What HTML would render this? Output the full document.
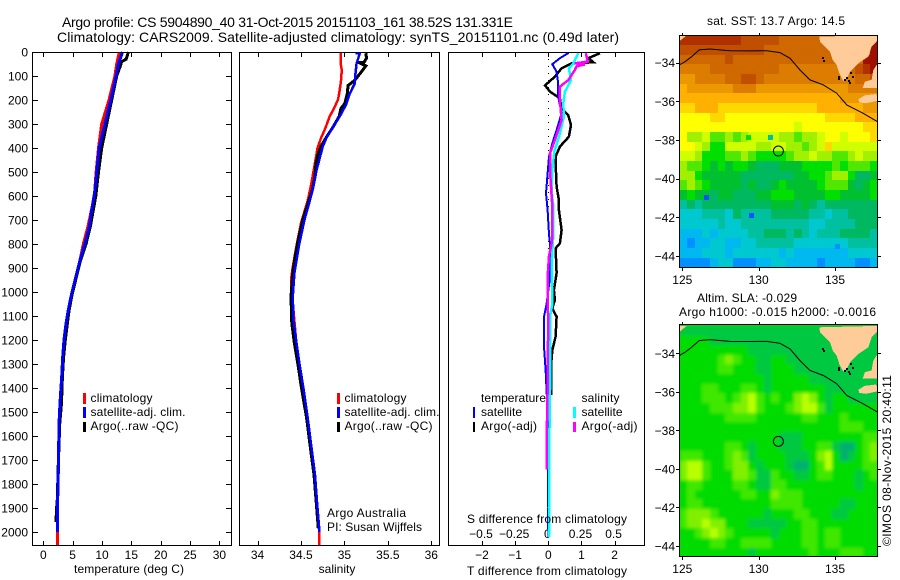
<!DOCTYPE html>
<html>
<head>
<meta charset="utf-8">
<title>Argo profile chart</title>
<style>
html,body{margin:0;padding:0;background:#fff;}
svg{display:block;}
text{font-family:"Liberation Sans",sans-serif;font-size:12px;fill:#000;}
.title{font-size:14px;}
.frame{fill:none;stroke:#000;stroke-width:1;shape-rendering:crispEdges;}
.tick{stroke:#000;stroke-width:1;shape-rendering:crispEdges;}
.profile{fill:none;shape-rendering:crispEdges;stroke-linejoin:miter;}
.land{fill:#ffcc99;stroke:none;shape-rendering:crispEdges;}
.contour{fill:none;stroke:#000;stroke-width:1;}
</style>
</head>
<body>
<svg id="chart" xmlns="http://www.w3.org/2000/svg" width="900" height="580" viewBox="0 0 900 580">
  <defs>
    <clipPath id="sla-clip"><rect x="680" y="325" width="198" height="231"/></clipPath>
    <filter id="sla-blur" x="-5%" y="-5%" width="110%" height="110%"><feGaussianBlur stdDeviation="1.6"/></filter>
  </defs>
  <rect width="900" height="580" fill="#fff"/>
  <text class="title" x="62" y="27" textLength="451" lengthAdjust="spacing">Argo profile: CS 5904890_40 31-Oct-2015 20151103_161 38.52S 131.331E</text>
  <text class="title" x="57" y="42" textLength="562" lengthAdjust="spacing">Climatology: CARS2009. Satellite-adjusted climatology: synTS_20151101.nc (0.49d later)</text>

  <g id="panel-temp"></g>
  <g id="panel-sal"></g>
  <g id="panel-diff"></g>
  <g id="map-sst"></g>
  <g id="map-sla"></g>

  <rect class="frame" x="32.5" y="52.5" width="199" height="493"/>
  <rect class="frame" x="239.5" y="52.5" width="200" height="493"/>
  <rect class="frame" x="448.5" y="52.5" width="196" height="493"/>

  <text x="161" y="573" text-anchor="middle" textLength="110" lengthAdjust="spacing" transform="translate(-32 0)">temperature (deg C)</text>
  <text x="337" y="573" text-anchor="middle">salinity</text>
  <text x="467" y="523" textLength="160" lengthAdjust="spacing">S difference from climatology</text>
  <text x="467" y="575" textLength="160" lengthAdjust="spacing">T difference from climatology</text>

  <g>
    <rect x="83" y="393" width="3" height="11" fill="#ff0000"/>
    <rect x="83" y="407" width="3" height="11" fill="#0000ff"/>
    <rect x="83" y="422" width="3" height="10" fill="#000"/>
    <text x="90.5" y="402" textLength="62" lengthAdjust="spacing">climatology</text>
    <text x="90.5" y="416" textLength="95" lengthAdjust="spacing">satellite-adj. clim.</text>
    <text x="90.5" y="430" textLength="88" lengthAdjust="spacing">Argo(..raw -QC)</text>
  </g>
  <g>
    <rect x="337" y="393" width="3" height="11" fill="#ff0000"/>
    <rect x="337" y="407" width="3" height="11" fill="#0000ff"/>
    <rect x="337" y="422" width="3" height="10" fill="#000"/>
    <text x="344.5" y="402" textLength="62" lengthAdjust="spacing">climatology</text>
    <text x="344.5" y="416" textLength="95" lengthAdjust="spacing">satellite-adj. clim.</text>
    <text x="344.5" y="430" textLength="88" lengthAdjust="spacing">Argo(..raw -QC)</text>
    <text x="327" y="517" textLength="79" lengthAdjust="spacing">Argo Australia</text>
    <text x="327" y="531" textLength="95" lengthAdjust="spacing">PI: Susan Wijffels</text>
  </g>
  <g>
    <text x="481" y="402" textLength="65" lengthAdjust="spacing">temperature</text>
    <text x="581.5" y="402" textLength="38" lengthAdjust="spacing">salinity</text>
    <rect x="473" y="407" width="2" height="11" fill="#0000ff"/>
    <rect x="473" y="422" width="2" height="10" fill="#000"/>
    <rect x="573" y="407" width="3" height="11" fill="#00ffff"/>
    <rect x="573" y="422" width="3" height="10" fill="#ff00ff"/>
    <text x="481" y="416" textLength="41" lengthAdjust="spacing">satellite</text>
    <text x="481" y="430" textLength="56" lengthAdjust="spacing">Argo(-adj)</text>
    <text x="581.5" y="416" textLength="41" lengthAdjust="spacing">satellite</text>
    <text x="581.5" y="430" textLength="56" lengthAdjust="spacing">Argo(-adj)</text>
  </g>

  <text x="707" y="25" textLength="138" lengthAdjust="spacing">sat. SST: 13.7 Argo: 14.5</text>
  <text x="697" y="302" textLength="100" lengthAdjust="spacing">Altim. SLA: -0.029</text>
  <text x="679" y="316" textLength="197" lengthAdjust="spacing">Argo h1000: -0.015 h2000: -0.0016</text>
  <text transform="translate(891 546) rotate(-90)" textLength="171" lengthAdjust="spacing">©IMOS 08-Nov-2015 20:40:11</text>
</svg>

<script>
// ---- axis tick arrays ----
const depthTicks = [0,100,200,300,400,500,600,700,800,900,1000,1100,1200,1300,1400,1500,1600,1700,1800,1900,2000];
const tempTicks = [0,5,10,15,20,25,30];
const salTicks = [34,34.5,35,35.5,36];
const salTickLabels = ['34','34.5','35','35.5','36'];
const tDiffTicks = [-2,-1,0,1,2];
const tDiffTickLabels = ['\u22122','\u22121','0','1','2'];
const sDiffTicks = [-0.5,-0.25,0,0.25,0.5];
const sDiffTickLabels = ['\u22120.5','\u22120.25','0','0.25','0.5'];
const mapLonTicks = [125,130,135];
const mapLatTicks = [-34,-36,-38,-40,-42,-44];

// ---- temperature profiles ----
const tempClimDepth = [0,50,100,200,300,400,500,600,728,797,867,922,1005,1075,1131,1200,1270,1353,1463,1550,1750,1860,2000,2054];
const tempClimValue = [12.95,12.5,12.2,11.2,9.95,9.4,9.0,8.7,7.6,6.85,6.25,5.69,4.84,4.26,3.87,3.53,3.3,3.13,2.85,2.67,2.56,2.45,2.39,2.39];
const tempSatDepth = [0,50,100,200,300,400,500,575,658,728,797,867,922,1005,1075,1131,1200,1270,1353,1463,1550,1750,1860,2000];
const tempSatValue = [13.5,12.8,12.4,11.5,10.5,9.5,9.1,8.81,8.24,7.84,7.1,6.25,5.69,4.84,4.26,3.87,3.53,3.3,3.13,2.85,2.67,2.56,2.45,2.39];
const tempArgoDepth = [0,30,40,60,100,200,300,400,500,600,728,797,867,922,1005,1075,1131,1200,1270,1353,1463,1550,1650,1750,1860,1915,1958];
const tempArgoValue = [14.5,14.1,13.35,13.1,12.5,11.65,10.8,9.95,9.4,8.95,8.0,7.3,6.35,5.8,4.95,4.4,4.1,3.75,3.45,3.25,3.1,2.8,2.65,2.5,2.4,2.22,2.2];

// ---- salinity profiles ----
const salClimDepth = [0,47,75,124,172,200,242,269,318,360,401,464,547,620,714,797,894,950,1060,1200,1297,1400,1525,1665,1762,1874,1985,2054];
const salClimValue = [34.96,34.956,34.97,34.96,34.94,34.925,34.87,34.83,34.78,34.73,34.69,34.66,34.62,34.578,34.50,34.455,34.406,34.386,34.41,34.444,34.482,34.528,34.578,34.627,34.662,34.685,34.71,34.71];
const salSatDepth = [5,5,47,89,131,172,221,267,311,353,394,436,492,561,617,700,797,921,1019,1117,1200,1297,1400,1525,1665,1762,1874,1985,2000];
const salSatValue = [35.13,35.178,35.14,35.128,35.12,35.063,35.017,34.948,34.872,34.80,34.75,34.72,34.68,34.643,34.604,34.54,34.482,34.425,34.406,34.413,34.444,34.482,34.528,34.578,34.627,34.662,34.685,34.71,34.71];
const salArgoDepth = [5,26,43,43,58,82,118,139,172,214,235,267,311,353,388,422,464,519,575,617,700,797,853,921,1019,1130,1214,1311,1385,1525,1665,1762,1874,1985];
const salArgoValue = [35.247,35.254,35.225,35.16,35.247,35.197,35.12,35.043,35.033,35.006,34.96,34.941,34.872,34.796,34.738,34.70,34.673,34.662,34.631,34.593,34.52,34.46,34.433,34.406,34.386,34.395,34.425,34.47,34.50,34.565,34.615,34.65,34.675,34.70];

// ---- difference profiles ----
const diffTArgoDepth = [5,26,43,47,68,103,139,165,193,235,263,304,353,394,436,492,561,617,658,742,797,818,921,992,1033,1068,1103,1186,1242,1311,1430];
const diffTArgoValue = [1.56,1.21,1.36,0.71,0.40,0.20,-0.10,0.05,0.35,0.40,0.60,0.685,0.62,0.35,0.22,0.23,0.25,0.32,0.32,0.40,0.35,0.22,0.25,0.17,0.20,0.12,0.25,0.22,0.12,0.08,0.08];
const diffTSatDepth = [3,26,51,82,131,186,256,325,381,436,506,589,658,760,797,938,1050,1103,1228,1325,1500,2020];
const diffTSatValue = [0.62,0.35,0.12,0.25,0.30,0.30,0.40,0.25,0.12,0.02,-0.02,-0.07,-0.02,0.02,0.05,0.05,-0.05,-0.13,-0.13,-0.08,-0.02,0];
const diffSSatDepth = [5,47,68,118,165,214,269,339,415,492,575,644,760,880,1050,1103,1408,1600,1900,2020];
const diffSSatValue = [0.226,0.189,0.155,0.171,0.125,0.113,0.118,0.088,0.045,0.03,0.025,0.038,0.038,0.025,0.03,0.0125,0.0125,0.008,0.005,0.005];
const diffSArgoDepth = [5,40,47,52,60,75,118,144,200,283,367,422,492,561,644,790,850,938,1007,1146,1285,1408,1600,1740];
const diffSArgoValue = [0.283,0.298,0.2,0.275,0.2125,0.20,0.15,0.0875,0.0875,0.10,0.05,0.0125,0.0125,0.02,0.03,0.028,0.005,-0.005,-0.005,0,-0.005,-0.005,-0.012,-0.012];

// ---- map grids (levels, 0.5 degree cells) ----
const sstLevels = [
[18,18,18,18,18,18,18,18,17,17,17,17,17,16,16,16,16,16,16,16,16,16,16,16,16,19],
[17,17,17,17,17,17,17,17,17,17,17,16,16,16,16,16,16,16,16,16,16,16,16,16,16,19],
[16,16,16,16,16,16,17,16,16,16,16,16,16,16,16,16,16,16,16,16,16,16,16,16,19,19],
[15,15,15,15,16,16,16,16,16,16,16,16,16,15,15,15,15,15,15,15,15,15,16,17,18,19],
[14,14,15,15,15,15,16,16,17,17,16,15,15,15,15,15,15,15,15,15,15,15,15,16,16,17],
[13,14,14,14,14,14,14,15,15,15,14,14,14,14,14,14,14,14,14,14,14,14,15,15,15,15],
[13,13,13,13,13,13,13,13,13,13,13,13,13,13,13,13,13,13,13,13,13,14,14,14,14,14],
[12,12,13,13,13,12,12,12,12,12,12,12,12,12,12,12,12,12,13,13,13,13,13,13,14,14],
[11,11,11,11,12,12,11,11,11,11,11,11,11,11,11,11,11,11,11,12,12,12,12,13,13,13],
[11,11,11,11,11,11,11,11,11,11,11,11,11,11,11,10,11,11,11,11,11,11,11,11,12,12],
[11,9,9,10,8,8,9,8,9,10,10,10,10,9,9,8,9,9,10,11,11,10,11,11,11,12],
[11,11,10,9,7,7,10,10,10,10,9,9,10,10,9,9,8,9,10,12,10,10,10,10,10,10],
[10,10,9,7,7,7,8,8,9,8,7,7,7,7,8,9,9,10,9,9,8,8,9,10,9,9],
[9,8,8,7,6,7,6,7,7,6,5,5,5,6,6,6,7,7,7,7,8,7,8,8,8,7],
[9,9,7,6,6,6,6,6,5,5,5,5,5,5,5,6,6,7,7,8,9,9,7,5,5,6],
[8,9,8,7,6,6,6,6,5,6,5,5,6,7,6,6,6,6,7,8,8,8,6,5,6,7],
[6,7,6,6,5,6,6,5,5,5,6,6,7,7,7,6,6,6,6,7,7,6,6,6,6,7],
[4,5,4,5,5,5,5,5,5,5,5,5,6,6,6,5,6,5,4,5,5,5,5,5,5,5],
[3,3,3,4,4,4,3,5,4,4,4,4,5,5,5,5,5,4,4,3,4,4,5,5,5,5],
[3,3,3,3,3,4,3,3,4,4,4,4,4,4,4,4,4,3,3,4,4,4,4,5,5,5],
[2,2,2,3,2,3,3,3,3,4,4,5,5,5,4,5,4,3,4,4,4,5,5,5,5,4],
[2,1,2,2,3,3,2,2,3,3,4,4,4,4,4,3,3,3,3,3,3,3,4,4,4,4],
[2,2,2,3,3,3,2,3,3,3,3,3,3,2,3,2,2,2,2,2,2,2,3,3,3,3],
[1,1,1,1,2,3,3,1,1,1,2,2,3,3,2,2,2,2,1,2,2,2,2,1,1,2]
];
const slaLevels = [
[1,1,1,1,1,1,1,1,1,1,1,1,1,1,1,1,1,1,1,1,1,1,1,1,1,1],
[2,2,2,2,1,1,1,1,1,1,1,1,1,1,1,1,1,1,1,1,1,1,1,1,1,1],
[2,2,2,2,2,2,2,2,2,1,1,1,1,1,1,1,1,1,1,1,1,1,1,1,1,1],
[2,2,2,2,2,3,4,3,2,2,1,1,2,2,1,1,1,1,1,1,1,1,1,1,1,1],
[2,2,2,2,2,3,3,2,2,2,1,1,2,2,2,1,1,1,1,1,1,1,1,1,1,1],
[2,2,2,2,2,2,2,2,2,2,2,1,2,2,2,2,2,1,1,1,1,1,1,1,1,1],
[2,2,2,3,3,2,2,2,3,3,2,1,2,2,2,2,2,2,2,1,1,1,1,1,1,1],
[2,2,2,3,3,3,2,3,4,5,3,2,3,2,2,4,5,4,2,1,2,2,1,1,1,1],
[2,2,2,2,3,3,3,4,4,5,3,2,2,2,3,4,5,5,3,1,2,2,2,2,2,2],
[2,2,2,2,2,2,3,3,3,3,2,2,2,2,2,2,3,3,2,2,2,3,2,2,2,2],
[2,2,2,2,2,2,2,2,2,2,2,2,2,2,2,2,2,2,2,2,2,3,3,3,2,2],
[2,2,2,2,2,2,2,2,2,2,2,2,2,1,1,1,2,2,2,2,2,2,2,2,3,3],
[2,2,2,2,2,2,3,3,2,1,2,2,2,1,1,1,2,2,3,3,1,0,0,2,3,4],
[3,3,3,2,2,2,3,4,3,1,2,2,2,2,1,1,1,2,4,5,2,0,1,2,3,4],
[4,5,5,3,2,2,3,4,4,2,1,2,2,2,1,0,0,2,3,5,2,2,2,2,3,3],
[4,5,5,3,2,2,2,4,4,3,1,1,3,2,2,1,1,2,3,3,2,2,2,1,2,3],
[2,3,3,2,2,2,2,3,3,2,1,1,3,3,2,2,2,2,2,2,2,2,2,1,2,2],
[2,3,2,2,2,2,2,2,3,3,2,2,4,3,3,3,2,2,2,2,2,2,2,2,2,2],
[2,3,3,2,2,2,2,2,2,2,2,2,3,3,3,3,2,2,2,2,2,1,1,2,2,2],
[3,4,4,4,3,2,2,2,2,2,2,1,2,2,2,3,3,2,2,2,1,1,2,2,2,2],
[3,4,4,5,4,4,2,2,2,1,1,1,1,1,2,2,3,3,2,2,2,2,2,2,2,2],
[2,2,3,4,5,4,3,2,2,2,2,2,1,2,2,2,3,3,2,3,3,2,2,2,2,2],
[2,2,2,2,3,3,2,2,3,3,3,3,2,2,2,2,3,3,2,3,3,2,2,2,2,2],
[2,2,2,2,2,2,2,2,2,1,2,2,2,2,2,2,2,3,2,2,2,3,3,3,2,2]
];
const sstSpeckLon = [126.4,129.2,130.6,129.35,135.0];
const sstSpeckLat = [-40.85,-37.75,-37.75,-41.8,-43.4];
const sstSpeckLevel = [0,7,4,0,1];

// ---- geography ----
const contourLon = [124.8,125.18,125.61,126.11,126.81,128.12,129.43,130.53,131.4,132.05,132.71,133.36,134.24,135.11,135.77,136.85,137.78];
const contourLat = [-34.12,-33.95,-33.69,-33.34,-33.29,-33.38,-33.39,-33.38,-33.48,-33.77,-34.38,-34.89,-35.15,-35.58,-36.19,-36.62,-37.05];
const eyreLon = [133.97,134.02,134.23,134.67,134.85,135.11,135.28,135.54,135.77,135.98,136.53,137.18,137.4,137.73,137.8];
const eyreLat = [-32.65,-32.91,-33.08,-33.43,-33.86,-34.12,-34.55,-34.95,-34.81,-34.47,-34.03,-33.69,-33.17,-32.91,-32.58];
const yorkeLon = [137.8,137.51,137.4,136.96,136.81,137.8];
const yorkeLat = [-34.03,-34.38,-34.89,-34.98,-35.32,-35.32];
const islandLon = [136.54,136.93,137.69,137.8,137.8,137.01,136.58];
const islandLat = [-35.89,-35.69,-35.62,-35.79,-35.97,-36.1,-36.05];
const cornerLon = [124.8,125.29,124.8];
const cornerLat = [-32.58,-32.58,-32.9];
const isletLon = [135.18,135.22,135.7,135.84,135.98,135.6,134.15,134.2,135.9,136.1];
const isletLat = [-34.69,-34.8,-34.74,-34.9,-34.48,-34.85,-33.7,-33.85,-35.0,-34.7];
const argoLon = 131.331;
const argoLat = -38.52;

// ---- scales ----
const SVGNS = 'http://www.w3.org/2000/svg';
function yDepth(d){ return 52 + 0.24*d; }
function xTemp(t){ return 43.3 + 5.87*t; }
function xSal(s){ return 257.5 + 86.9*(s-34); }
function xDiffT(t){ return 548.3 + 33.15*t; }
function xDiffS(s){ return 548.3 + 132.6*s; }
function xMap(lon){ return 682.3 + 15.27*(lon-125); }
function ySst(lat){ return 62.7 + 19.33*(-34-lat); }
function ySla(lat){ return 353.3 + 19.27*(-34-lat); }

const sstColors = ['#0050ff','#0090ff','#00b8f0','#00c8d0','#00c0a0','#00b860','#00c030','#00e000','#50e800','#a0f000','#d0ff00','#ffff00','#ffd800','#ffb000','#ec9800','#dc7c00','#d06800','#c05000','#b03000','#a01000'];
const slaColors = ['#00b070','#00c840','#00dc00','#40e800','#80f000','#b8ff00'];

function make(parent, tag, attrs){
  const el = document.createElementNS(SVGNS, tag);
  for (const k in attrs) el.setAttribute(k, attrs[k]);
  parent.appendChild(el);
  return el;
}
function addTick(parent, x1, y1, x2, y2){
  const el = make(parent, 'line', {x1:x1, y1:y1, x2:x2, y2:y2, 'class':'tick'});
  
  
}
function addLabel(parent, x, y, anchor, content){
  const el = make(parent, 'text', {x:x, y:y, 'text-anchor':anchor});
  el.textContent = content;
  
  
}
function addProfile(parent, name, depths, values, xFn, color, width){
  const pts = depths.map(function(d,i){ return xFn(values[i]).toFixed(1)+','+yDepth(d).toFixed(1); }).join(' ');
  const el = make(parent, 'polyline', {points:pts, stroke:color, 'stroke-width':width, 'class':'profile'});
  
  
}

// ---- temperature panel ----
const pT = document.getElementById('panel-temp');
depthTicks.forEach(function(d){
  addTick(pT, 33, Math.round(yDepth(d))+0.5, 38, Math.round(yDepth(d))+0.5);
  addTick(pT, 226, Math.round(yDepth(d))+0.5, 231, Math.round(yDepth(d))+0.5);
  addLabel(pT, 28, yDepth(d)+4.5, 'end', String(d));
});
tempTicks.forEach(function(t){
  addTick(pT, Math.round(xTemp(t))+0.5, 53, Math.round(xTemp(t))+0.5, 57);
  addTick(pT, Math.round(xTemp(t))+0.5, 541, Math.round(xTemp(t))+0.5, 545);
  addLabel(pT, xTemp(t), 559, 'middle', String(t));
});
addProfile(pT, 'temperature-climatology-line', tempClimDepth, tempClimValue, xTemp, '#ff0000', 3);
addProfile(pT, 'temperature-argo-line', tempArgoDepth, tempArgoValue, xTemp, '#000000', 3);
addProfile(pT, 'temperature-satellite-line', tempSatDepth, tempSatValue, xTemp, '#0000ff', 3);

// ---- salinity panel ----
const pS = document.getElementById('panel-sal');
salTicks.forEach(function(s,i){
  addTick(pS, Math.round(xSal(s))+0.5, 53, Math.round(xSal(s))+0.5, 57);
  addTick(pS, Math.round(xSal(s))+0.5, 541, Math.round(xSal(s))+0.5, 545);
  addLabel(pS, xSal(s), 559, 'middle', salTickLabels[i]);
});
addProfile(pS, 'salinity-climatology-line', salClimDepth, salClimValue, xSal, '#ff0000', 2.5);
addProfile(pS, 'salinity-argo-line', salArgoDepth, salArgoValue, xSal, '#000000', 3);
addProfile(pS, 'salinity-satellite-line', salSatDepth, salSatValue, xSal, '#0000ff', 2.5);

// ---- difference panel ----
const pD = document.getElementById('panel-diff');
const zeroLine = make(pD, 'line', {x1:xDiffT(0), y1:yDepth(0), x2:xDiffT(0), y2:yDepth(2054), stroke:'#000', 'stroke-width':1, 'stroke-dasharray':'1 6', 'shape-rendering':'crispEdges'});


tDiffTicks.forEach(function(t,i){
  addTick(pD, Math.round(xDiffT(t))+0.5, 53, Math.round(xDiffT(t))+0.5, 57);
  addTick(pD, Math.round(xDiffT(t))+0.5, 541, Math.round(xDiffT(t))+0.5, 545);
  addLabel(pD, xDiffT(t), 559, 'middle', tDiffTickLabels[i]);
});
sDiffTicks.forEach(function(s,i){
  addLabel(pD, xDiffS(s)-1, 538, 'middle', sDiffTickLabels[i]);
});
addProfile(pD, 'difference-t-argo-line', diffTArgoDepth, diffTArgoValue, xDiffT, '#000000', 2.5);
addProfile(pD, 'difference-t-satellite-line', diffTSatDepth, diffTSatValue, xDiffT, '#0000ff', 2);
addProfile(pD, 'difference-s-satellite-line', diffSSatDepth, diffSSatValue, xDiffS, '#00ffff', 2.5);
addProfile(pD, 'difference-s-argo-line', diffSArgoDepth, diffSArgoValue, xDiffS, '#ff00ff', 2.5);

// ---- maps ----
function polyPoints(lons, lats, yFn){
  return lons.map(function(lon,i){ return xMap(lon).toFixed(1)+','+yFn(lats[i]).toFixed(1); }).join(' ');
}
function drawMap(group, levels, colors, yFn, cellName){
  const lonStart = 124.82, latStart = -32.58, step = 0.5;
  levels.forEach(function(row, r){
    row.forEach(function(level, c){
      const x0 = Math.round(xMap(lonStart + c*step));
      const x1 = Math.round(xMap(lonStart + (c+1)*step));
      const y0 = Math.round(yFn(latStart - r*step));
      const y1 = Math.round(yFn(latStart - (r+1)*step));
      const cell = make(group, 'rect', {x:x0, y:y0, width:x1-x0, height:y1-y0, fill:colors[level], 'shape-rendering':'crispEdges'});
      
      
    });
  });
}
function drawOverlay(group, yFn){
  [[eyreLon,eyreLat,'eyre-land'],[yorkeLon,yorkeLat,'yorke-land'],[islandLon,islandLat,'kangaroo-island-land'],[cornerLon,cornerLat,'corner-land']].forEach(function(shape){
    const land = make(group, 'polygon', {points:polyPoints(shape[0],shape[1],yFn), 'class':'land'});
    
    
  });
  isletLon.forEach(function(lon,i){
    const islet = make(group, 'rect', {x:Math.round(xMap(lon)), y:Math.round(yFn(isletLat[i])), width:2, height:2, fill:'#000', 'shape-rendering':'crispEdges'});
    
    
  });
  const contour = make(group, 'polyline', {points:polyPoints(contourLon,contourLat,yFn), 'class':'contour'});
  
  
  const marker = make(group, 'circle', {cx:xMap(argoLon)-0.6, cy:yFn(argoLat-0.05), r:5, fill:'none', stroke:'#000', 'stroke-width':1});
  
  
}
function drawMapAxes(group, top, bottom, yFn){
  const frame = make(group, 'rect', {x:679.5, y:top+0.5, width:198, height:bottom-top, 'class':'frame'});
  
  
  mapLonTicks.forEach(function(lon){
    const x = Math.round(xMap(lon))+0.5;
    addTick(group, x, top-2, x, top);
    addTick(group, x, bottom+1, x, bottom+4);
    addLabel(group, xMap(lon), bottom+17, 'middle', String(lon));
  });
  mapLatTicks.forEach(function(lat){
    const y = Math.round(yFn(lat))+0.5;
    addTick(group, 676, y, 679, y);
    addTick(group, 878, y, 881, y);
    addLabel(group, 675, yFn(lat)+4.5, 'end', '\u2212'+Math.abs(lat));
  });
}
const mSst = document.getElementById('map-sst');
drawMap(mSst, sstLevels, sstColors, ySst, 'sst-cell');
sstSpeckLon.forEach(function(lon,i){
  const speck = make(mSst, 'rect', {x:Math.round(xMap(lon)), y:Math.round(ySst(sstSpeckLat[i])), width:5, height:5, fill:sstColors[sstSpeckLevel[i]], 'shape-rendering':'crispEdges'});
  
  
});
drawOverlay(mSst, ySst);
drawMapAxes(mSst, 35, 267, ySst);

const mSla = document.getElementById('map-sla');
const slaClip = make(mSla, 'g', {'clip-path':'url(#sla-clip)'});
const slaBacking = make(slaClip, 'rect', {x:680, y:325, width:198, height:231, fill:'#00dc00'});


const slaCells = make(slaClip, 'g', {filter:'url(#sla-blur)'});
drawMap(slaCells, slaLevels, slaColors, ySla, 'sla-cell');
drawOverlay(mSla, ySla);
drawMapAxes(mSla, 324, 556, ySla);
</script>
</body>
</html>
